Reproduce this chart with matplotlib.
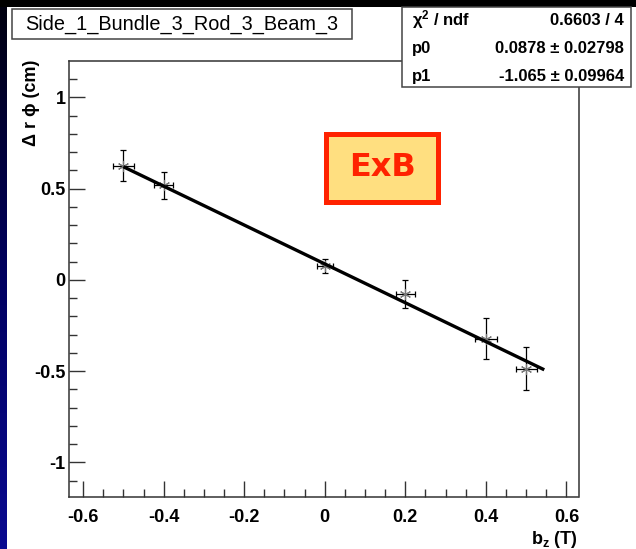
import matplotlib.pyplot as plt
import matplotlib.patches as patches
from matplotlib.colors import LinearSegmentedColormap
import numpy as np

# measured points
bz = [-0.5, -0.4, 0.0, 0.2, 0.4, 0.5]
drphi = [0.627, 0.518, 0.076, -0.079, -0.322, -0.487]
bz_err = [0.026, 0.024, 0.020, 0.023, 0.027, 0.026]
drphi_err = [0.085, 0.075, 0.038, 0.076, 0.111, 0.118]

# linear fit pol1: p0 + p1 * x
p0, p0_err = 0.0878, 0.02798
p1, p1_err = -1.065, 0.09964
chi2, ndf = 0.6603, 4
fit_range = (-0.5, 0.545)

title = 'Side_1_Bundle_3_Rod_3_Beam_3'

W, H = 636, 549
FONT = ['Liberation Sans', 'DejaVu Sans']
plt.rcParams['font.family'] = FONT
plt.rcParams['mathtext.fontset'] = 'custom'
plt.rcParams['mathtext.rm'] = 'Liberation Sans:bold'
plt.rcParams['mathtext.it'] = 'Liberation Sans:italic'

fig = plt.figure(figsize=(W / 100, H / 100), dpi=100, facecolor='black')


def fx(px):
    return px / W


def fy(py):
    return 1 - py / H


# slide background: white canvas, dark blue strip on the left
fig.patches.append(patches.Rectangle((fx(7), 0), 1, fy(7), transform=fig.transFigure,
                                     facecolor='white', edgecolor='none', zorder=-10))
strip = fig.add_axes([0, 0, fx(7), fy(7)])
grad = np.linspace(0, 1, 256).reshape(-1, 1)
cm = LinearSegmentedColormap.from_list('bg', ['#000010', '#000060', '#0a0a90'])
strip.imshow(grad, aspect='auto', cmap=cm, extent=[0, 1, 0, 1], origin='upper')
strip.axis('off')

ax = fig.add_axes([fx(69), fy(497), fx(578.5) - fx(69), fy(61) - fy(497)])
ax.set_facecolor('white')

ax.errorbar(bz, drphi, xerr=bz_err, yerr=drphi_err, fmt='none', ecolor='black',
            elinewidth=0.9, capsize=2.5, capthick=0.9, zorder=2)
ax.plot(bz, drphi, linestyle='none', marker=(6, 2, 0), markersize=8,
        markeredgecolor='#777777', markeredgewidth=0.8, zorder=3)

fit_x = np.array(fit_range)
ax.plot(fit_x, p0 + p1 * fit_x, color='black', linewidth=2.4, zorder=4,
        solid_capstyle='butt')

ax.set_xlim(-0.635, 0.63)
ax.set_ylim(-1.19, 1.2)
ax.set_xticks([-0.6, -0.4, -0.2, 0, 0.2, 0.4, 0.6])
ax.set_xticklabels(['-0.6', '-0.4', '-0.2', '0', '0.2', '0.4', '0.6'])
ax.set_xticks(np.arange(-0.6, 0.61, 0.05), minor=True)
ax.set_yticks([-1, -0.5, 0, 0.5, 1])
ax.set_yticklabels(['-1', '-0.5', '0', '0.5', '1'])
ax.set_yticks(np.arange(-1.1, 1.11, 0.1), minor=True)
ax.tick_params(which='both', direction='in', top=False, right=False, color='#333333')
ax.tick_params(which='major', length=11.5, width=1.0)
ax.tick_params(which='minor', length=5.8, width=1.0)
ax.tick_params(axis='x', which='major', pad=9, labelsize=13)
ax.tick_params(axis='y', which='major', pad=2.5, labelsize=13)
for lab in ax.get_xticklabels() + ax.get_yticklabels():
    lab.set_fontweight('bold')
for sp in ax.spines.values():
    sp.set_color('#333333')
    sp.set_linewidth(1.1)

# axis titles (ROOT style, aligned to axis end)
fig.text(fx(32), fy(60), 'Δ r ϕ (cm)', rotation=90, ha='center', va='top',
         fontsize=13, fontweight='bold')
fig.text(fx(578), fy(529), r'b$_\mathrm{z}$ (T)', ha='right', va='top',
         fontsize=13, fontweight='bold')

# title box
fig.patches.append(patches.Rectangle((fx(12), fy(39)), fx(352) - fx(12), fy(9) - fy(39),
                                     transform=fig.transFigure, facecolor='white',
                                     edgecolor='#444444', linewidth=1.1, zorder=5))
fig.text(fx(182), fy(24), title, ha='center', va='center', fontsize=14.3, zorder=6)

# stats box
fig.patches.append(patches.Rectangle((fx(401.5), fy(87)), fx(631) - fx(401.5), fy(7) - fy(87),
                                     transform=fig.transFigure, facecolor='white',
                                     edgecolor='#444444', linewidth=1.1, zorder=5))
rows = [('χ$^2$ / ndf', f'{chi2:.4f} / {ndf}'),
        ('p0', f'{p0:.4f} ± {p0_err:.5f}'),
        ('p1', f'{p1:.3f} ± {p1_err:.5f}')]
for i, (left, right) in enumerate(rows):
    yy = fy(25 + i * 28)
    fig.text(fx(412), yy, left, ha='left', va='baseline', fontsize=12, fontweight='bold', zorder=6)
    fig.text(fx(624), yy, right, ha='right', va='baseline', fontsize=12, fontweight='bold', zorder=6)

# ExB label
fig.patches.append(patches.Rectangle((fx(326), fy(202)), fx(438) - fx(326), fy(134) - fy(202),
                                     transform=fig.transFigure, facecolor='#FFDF80',
                                     edgecolor='#FF2200', linewidth=3.6, zorder=5))
fig.text(fx(382), fy(168), 'ExB', ha='center', va='center', fontsize=23, fontweight='bold',
         color='#FF2200', family=['DejaVu Sans'], zorder=6)

fig.savefig('out.png', dpi=100, facecolor=fig.get_facecolor())
